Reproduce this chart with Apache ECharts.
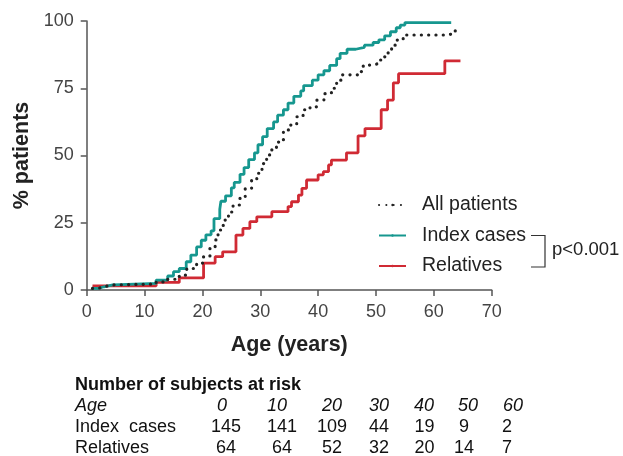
<!DOCTYPE html>
<html><head><meta charset="utf-8">
<script src="https://cdn.jsdelivr.net/npm/echarts@6/dist/echarts.min.js"></script>
<style>html,body{margin:0;padding:0;background:#fff}#c{width:623px;height:456px}</style>
</head><body><div id="c"></div>
<script>
// ---- data ----
const seriesNames = ['All patients', 'Index cases', 'Relatives'];
const allPatients = [[1,0.6],[2,1.2],[3,1.9],[4.5,2.2],[12,3],[14,4],[16,5.5],[17.3,8],[19,10],[20.2,12.4],[21.3,16],[22.2,18.6],[22.7,22.3],[23.6,26],[24.5,29],[25.3,31.6],[26.5,34.7],[27.4,37.8],[28.5,41],[29.4,43.4],[30.3,47],[31.1,50.2],[32,53],[32.8,55],[34,59.5],[35.1,61.3],[36.3,64.4],[37.4,67],[38.6,68.1],[39.8,70.6],[41,73],[42.3,75],[43.2,78],[44.1,80],[46.9,81.2],[47.8,83.6],[49.3,84.3],[50.7,85.5],[51.3,86.7],[52.1,89.2],[52.7,91],[53.6,92.9],[54.7,94.8],[62.2,95.4],[63.7,96.7],[64.2,97]];
const indexCases = [[1,0.6],[2,1.2],[3,1.9],[4.5,2.5],[12,3.7],[14,5.2],[15,6.8],[16,8],[17.2,10.5],[18,13],[19,16],[19.8,18.5],[20.6,20.5],[21.5,22],[22,26.5],[23,30],[23.2,33],[24,35],[25,38],[25.5,40],[26.5,43],[27.2,45.5],[28,48.5],[29,51],[29.6,54],[30.4,57],[31.2,60],[32.3,62.5],[33,65],[34,67],[34.8,69.5],[35.8,72],[37,74],[37.5,76],[39,78],[40,80],[41,81.5],[42,83.5],[43.2,86],[43.8,88],[45,89.5],[46.5,90.2],[48,91],[49.5,92],[50.5,93],[51.5,94.5],[52.5,96],[53.5,97.5],[54.2,98.5],[55,99.4],[63,99.4]];
const relatives = [[1,1.5],[12,2.8],[16,4.5],[20.2,10],[22.2,12.4],[23.5,14.2],[25.8,20.4],[27,22.9],[28.2,25.4],[29.4,27.2],[32,29.1],[34.8,31],[35.4,32.8],[36.6,35.3],[37.2,37.8],[38,40.9],[40,42.8],[40.9,44],[41.8,46.5],[42.3,48.3],[44.9,51],[46.9,57.3],[48.1,60],[50.9,67],[52,70.6],[53,77],[53.9,80.4],[61.9,85.2],[64.6,85.2]];
const riskAges = ['0','10','20','30','40','50','60'];
const riskIndex = [145,141,109,44,19,9,2];
const riskRelatives = [64,64,52,32,20,14,7];
const riskTitle = 'Number of subjects at risk';
const riskRowLabels = ['Age', 'Index  cases', 'Relatives'];
const pText = 'p<0.001';

// ---- layout / style ----
const FONT = '"Liberation Sans", Arial, sans-serif';
const TEAL = '#16978f', RED = '#d02a34', DOT = '#222';
const headerCols = [222, 277, 332, 379, 424, 468, 513];
const countCols = [226, 282, 332, 379, 424.5, 464, 507];
const dotIcon = 'path://M1.5,0A1.5,1.5 0 1 1 1.5,3A1.5,1.5 0 1 1 1.5,0Z M9.5,0A1.5,1.5 0 1 1 9.5,3A1.5,1.5 0 1 1 9.5,0Z M17.5,0A1.5,1.5 0 1 1 17.5,3A1.5,1.5 0 1 1 17.5,0Z M25.5,0A1.5,1.5 0 1 1 25.5,3A1.5,1.5 0 1 1 25.5,0Z';

const chart = echarts.init(document.getElementById('c'));
const graphics = [];
graphics.push({type:'polyline', shape:{points:[[531,235.5],[545,235.5],[545,267],[531,267]]}, style:{stroke:'#333', lineWidth:1.2, fill:null}});
graphics.push({type:'text', x:552, y:250, style:{text:pText, font:'18.5px '+FONT, fill:'#222', verticalAlign:'middle'}});
graphics.push({type:'text', x:75, y:385, style:{text:riskTitle, font:'bold 18px '+FONT, fill:'#111', verticalAlign:'middle'}});
const rowY = [406, 427, 448];
graphics.push({type:'text', x:75, y:rowY[0], style:{text:riskRowLabels[0], font:'italic 18px '+FONT, fill:'#111', verticalAlign:'middle'}});
graphics.push({type:'text', x:75, y:rowY[1], style:{text:riskRowLabels[1], font:'18px '+FONT, fill:'#111', verticalAlign:'middle'}});
graphics.push({type:'text', x:75, y:rowY[2], style:{text:riskRowLabels[2], font:'18px '+FONT, fill:'#111', verticalAlign:'middle'}});
riskAges.forEach((a,i)=>graphics.push({type:'text', x:headerCols[i], y:rowY[0], style:{text:a, font:'italic 18px '+FONT, fill:'#111', align:'center', verticalAlign:'middle'}}));
riskIndex.forEach((v,i)=>graphics.push({type:'text', x:countCols[i], y:rowY[1], style:{text:String(v), font:'18px '+FONT, fill:'#111', align:'center', verticalAlign:'middle'}}));
riskRelatives.forEach((v,i)=>graphics.push({type:'text', x:countCols[i], y:rowY[2], style:{text:String(v), font:'18px '+FONT, fill:'#111', align:'center', verticalAlign:'middle'}}));

const axisCommon = {
  axisLine:{show:true, lineStyle:{color:'#555', width:1.5}},
  axisTick:{show:true, length:6, lineStyle:{color:'#555', width:1.5}},
  splitLine:{show:false},
  axisLabel:{color:'#444', fontSize:18, fontFamily:FONT, margin:13},
  nameTextStyle:{color:'#222', fontSize:21.5, fontWeight:'bold', fontFamily:FONT}
};

chart.setOption({
  animation:false,
  backgroundColor:'#fff',
  grid:{left:86.7, right:131.3, top:21, bottom:166},
  xAxis:Object.assign({type:'value', min:0, max:70, interval:10, name:'Age (years)', nameLocation:'middle', nameGap:44}, axisCommon),
  yAxis:Object.assign({type:'value', min:0, max:100, interval:25, name:'% patients', nameLocation:'middle', nameGap:52}, axisCommon),
  legend:{
    data:seriesNames, orient:'vertical', left:373, top:190, itemWidth:27, itemHeight:3, itemGap:10.5,
    textStyle:{fontSize:19.5, fontFamily:FONT, color:'#222', padding:[0,0,0,11]}
  },
  graphic:graphics,
  series:[
    {name:seriesNames[2], type:'line', step:'end', data:relatives, showSymbol:false, symbol:'none', legendIcon:'rect', color:RED, lineStyle:{color:RED, width:2.8}},
    {name:seriesNames[1], type:'line', step:'end', data:indexCases, showSymbol:false, symbol:'none', legendIcon:'rect', color:TEAL, lineStyle:{color:TEAL, width:2.8}},
    {name:seriesNames[0], type:'line', step:'end', data:allPatients, showSymbol:false, symbol:'none', legendIcon:dotIcon, color:DOT, lineStyle:{color:DOT, width:3.2, type:[0.1,7.2], cap:'round'}}
  ]
});
</script></body></html>
